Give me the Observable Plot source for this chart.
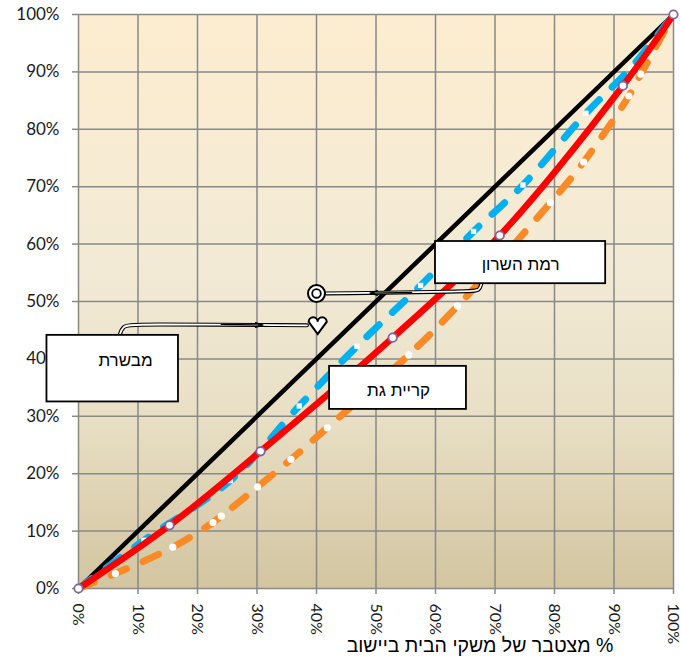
<!DOCTYPE html>
<html><head><meta charset="utf-8">
<script src="https://cdn.jsdelivr.net/npm/d3@7"></script>
<script src="https://cdn.jsdelivr.net/npm/@observablehq/plot@0.6"></script>
<style>
body{margin:0;background:#fff;}
#wrap{width:681px;height:662px;}
</style>
</head><body><div id="wrap"></div>
<script>
// ---- data ----
const tickValues = [0, 10, 20, 30, 40, 50, 60, 70, 80, 90, 100];
const equalityX = [0, 100];
const equalityY = [0, 100];
const redX = [0, 15.3, 30.6, 52.8, 70.8, 91.5, 100];
const redY = [0, 11.0, 23.9, 43.7, 61.5, 87.6, 100];
const blueX = [0, 11.0, 25.5, 37.1, 46.8, 57.5, 66.4, 74.7, 85.3, 92.9, 100];
const blueY = [0, 8.4, 18.8, 31.8, 42.2, 52.8, 62.2, 70.3, 82.8, 90.8, 100];
const orangeX = [0, 6.2, 15.85, 22.6, 24.0, 30.1, 35.7, 41.8, 55.5, 63.7, 79.3, 84.9, 92.5, 94.5, 100];
const orangeY = [0, 2.6, 7.2, 11.5, 12.6, 17.7, 22.5, 28.0, 40.7, 49.2, 67.2, 74.3, 85.8, 89.6, 100];
const calloutNames = ["רמת השרון", "מבשרת", "קריית גת"];
const calloutX1 = [60.0, -5.3, 42.2];
const calloutX2 = [88.6, 16.8, 65.2];
const calloutY1 = [53.1, 32.5, 31.2];
const calloutY2 = [60.45, 44.1, 38.7];
const calloutTextX = [74.3, 7.9, 53.8];
const calloutTextY = [56.4, 39.7, 34.5];
const ringPoint = {x: 40.0, y: 51.4};
const heartPoint = {x: 40.2, y: 45.8};
const ringTail = [{x: 67.7, y: 53.1}, {x: 67.4, y: 51.9}, {x: 66.0, y: 51.75}, {x: 41.6, y: 51.4}];
const ringHead = [{x1: 56.0, y1: 51.6, x2: 49.0, y2: 51.45}];
const heartTail = [{x: 6.9, y: 44.1}, {x: 7.4, y: 45.7}, {x: 9.0, y: 46.1}, {x: 38.4, y: 45.85}];
const heartHead = [{x1: 24.0, y1: 46.0, x2: 31.0, y2: 45.9}];
const xTitle = "\u200F% מצטבר של משקי הבית ביישוב";

const zip = (xs, ys) => xs.map((x, i) => ({x, y: ys[i]}));
const equality = zip(equalityX, equalityY);
const red = zip(redX, redY);
const blue = zip(blueX, blueY);
const orange = zip(orangeX, orangeY);
const callouts = calloutNames.map((name, i) => ({
  name, x1: calloutX1[i], x2: calloutX2[i], y1: calloutY1[i], y2: calloutY2[i],
  tx: calloutTextX[i], ty: calloutTextY[i]
}));

const heart = {
  draw(ctx, size) {
    const s = Math.sqrt(size / Math.PI);
    const cy = -0.42 * s;
    ctx.moveTo(0, cy);
    ctx.arc(-0.5 * s, cy, 0.5 * s, 0, Math.PI, true);
    ctx.lineTo(0, 0.95 * s);
    ctx.lineTo(s, cy);
    ctx.arc(0.5 * s, cy, 0.5 * s, 0, Math.PI, true);
    ctx.closePath();
  }
};

const background = (index, scales, values, dims) => {
  const g = d3.create("svg:g");
  const lg = g.append("defs").append("linearGradient")
    .attr("id", "bg").attr("x1", 0).attr("y1", 0).attr("x2", 0).attr("y2", 1);
  [[0, "#FDEDD0"], [0.45, "#F2EAD5"], [0.7, "#E8DFC5"], [1, "#D3C5A0"]].forEach(([o, c]) =>
    lg.append("stop").attr("offset", o).attr("stop-color", c));
  g.append("rect")
    .attr("x", dims.marginLeft).attr("y", dims.marginTop)
    .attr("width", dims.width - dims.marginLeft - dims.marginRight)
    .attr("height", dims.height - dims.marginTop - dims.marginBottom)
    .attr("fill", "url(#bg)");
  return g.node();
};

const dash = "17,18";
const gridStyle = {stroke: "#898989", strokeOpacity: 1, strokeWidth: 1.5};
const heb = "'Liberation Sans', Arial, sans-serif";

const chart = Plot.plot({
  width: 681, height: 662,
  marginTop: 14, marginRight: 8, marginBottom: 74, marginLeft: 78,
  x: {domain: [0, 100]},
  y: {domain: [0, 100]},
  style: {fontFamily: "Lato, 'Liberation Sans', sans-serif", fontSize: "17px", color: "#1a1a1a", background: "transparent", overflow: "visible"},
  marks: [
    background,
    Plot.gridX(tickValues, gridStyle),
    Plot.gridY(tickValues, gridStyle),
    Plot.axisY(tickValues, {tickSize: 6, tickPadding: 13, tickFormat: d => d + "%", label: null, stroke: "#898989", strokeWidth: 1.5, fontSize: 17}),
    Plot.axisX(tickValues, {tickSize: 6, tickPadding: 9, tickRotate: 90, tickFormat: d => d + "%", label: null, stroke: "#898989", strokeWidth: 1.5, fontSize: 16}),
    Plot.line(equality, {x: "x", y: "y", stroke: "#000", strokeWidth: 4.5}),
    Plot.line(orange, {x: "x", y: "y", stroke: "#FA8A26", strokeWidth: 7, strokeDasharray: dash, strokeLinecap: "round", curve: "catmull-rom"}),
    Plot.dot(orange.slice(1, -1), {x: "x", y: "y", r: 3.6, fill: "#fff"}),
    Plot.line(blue, {x: "x", y: "y", stroke: "#00B0F0", strokeWidth: 7, strokeDasharray: dash, strokeLinecap: "round", curve: "catmull-rom"}),
    Plot.dot(blue.slice(1, -1), {x: "x", y: "y", r: 3, symbol: "square", fill: "#fff"}),
    Plot.line(red, {x: "x", y: "y", stroke: "#FF0000", strokeWidth: 6.5, curve: "catmull-rom"}),
    Plot.dot(red, {x: "x", y: "y", r: 4.2, fill: "#fff", stroke: "#8064A2", strokeWidth: 1.8}),
    // callout tails
    Plot.line(ringTail, {x: "x", y: "y", stroke: "#000", strokeWidth: 4, curve: "basis"}),
    Plot.line(ringTail, {x: "x", y: "y", stroke: "#fff", strokeWidth: 1.8, curve: "basis"}),
    Plot.arrow(ringHead, {x1: "x1", y1: "y1", x2: "x2", y2: "y2", stroke: "#000", strokeWidth: 1.3, headLength: 9, headAngle: 35}),
    Plot.line(heartTail, {x: "x", y: "y", stroke: "#000", strokeWidth: 4, curve: "basis"}),
    Plot.line(heartTail, {x: "x", y: "y", stroke: "#fff", strokeWidth: 1.8, curve: "basis"}),
    Plot.arrow(heartHead, {x1: "x1", y1: "y1", x2: "x2", y2: "y2", stroke: "#000", strokeWidth: 1.3, headLength: 9, headAngle: 35}),
    // markers
    Plot.dot([ringPoint], {x: "x", y: "y", r: 8.5, fill: "#fff", stroke: "#000", strokeWidth: 2}),
    Plot.dot([ringPoint], {x: "x", y: "y", r: 4.3, fill: "#fff", stroke: "#000", strokeWidth: 1.8}),
    Plot.dot([heartPoint], {x: "x", y: "y", r: 9, symbol: heart, fill: "#fff", stroke: "#000", strokeWidth: 2}),
    // callout boxes
    Plot.rect(callouts, {x1: "x1", x2: "x2", y1: "y1", y2: "y2", fill: "#fff", stroke: "#000", strokeWidth: 1.8}),
    Plot.text(callouts, {x: "tx", y: "ty", text: "name", fontFamily: heb, fontSize: 17, fill: "#000"}),
    // x title
    Plot.text([xTitle], {frameAnchor: "bottom", dx: 104, dy: 63, fontFamily: heb, fontSize: 19.5, fill: "#000"})
  ]
});
document.getElementById("wrap").appendChild(chart);
</script>
</body></html>
